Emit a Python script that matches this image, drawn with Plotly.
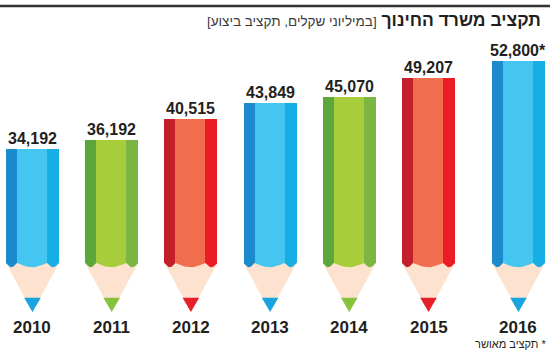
import math
import plotly.graph_objects as go

# ---- data ----
years = ["2010", "2011", "2012", "2013", "2014", "2015", "2016"]
budget = [34192, 36192, 40515, 43849, 45070, 49207, 52800]
approved = [False, False, False, False, False, False, True]
pencil_color = ["blue", "green", "red", "blue", "green", "red", "blue"]

title_main = "תקציב משרד החינוך"
title_sub = "[במיליוני שקלים, תקציב ביצוע]"
footnote = "* תקציב מאושר"

# ---- styling ----
palette = {
    "blue": {"left": "#1C8BCE", "mid": "#44C6F1", "right": "#17AEE6", "lead": "#1BA3DF"},
    "green": {"left": "#5BA73C", "mid": "#A7CE3A", "right": "#7BB642", "lead": "#86C23E"},
    "red": {"left": "#C4202B", "mid": "#F06E4E", "right": "#EC1C25", "lead": "#E5202A"},
}
WOOD = "#FDE3CF"
TEXT = "#231F20"

# pencil geometry (x in category units, y in budget units)
stripe_edges = [-0.335, -0.196, 0.183, 0.335]
stripe_names = ["left", "mid", "right"]
body_base = 10300      # where the painted body ends and the wooden cone starts
scallop_depth = 900
lead_top = 3000
lead_half = 0.105
extra_gap_last = 0.136  # approved-budget pencil is set slightly apart

xpos = [i + (extra_gap_last if approved[i] else 0) for i in range(len(years))]

fig = go.Figure()

# wooden cones
for i, v in enumerate(budget):
    x0 = xpos[i]
    fig.add_trace(go.Scatter(
        x=[x0 + stripe_edges[0], x0 + stripe_edges[-1], x0, x0 + stripe_edges[0]],
        y=[body_base, body_base, 0, body_base],
        fill="toself", fillcolor=WOOD, mode="lines", line=dict(width=0, color=WOOD),
        hoverinfo="skip", showlegend=False))

# leads
for i, v in enumerate(budget):
    x0 = xpos[i]
    c = palette[pencil_color[i]]["lead"]
    fig.add_trace(go.Scatter(
        x=[x0 - lead_half, x0 + lead_half, x0, x0 - lead_half],
        y=[lead_top, lead_top, 0, lead_top],
        fill="toself", fillcolor=c, mode="lines", line=dict(width=0, color=c),
        hoverinfo="skip", showlegend=False))

# painted bodies: three stripes per pencil
for s, name in enumerate(stripe_names):
    w = stripe_edges[s + 1] - stripe_edges[s]
    fig.add_trace(go.Bar(
        x=xpos,
        y=[v - body_base for v in budget],
        base=body_base,
        width=w,
        offset=stripe_edges[s],
        marker=dict(color=[palette[c][name] for c in pencil_color], line=dict(width=0)),
        hoverinfo="skip", showlegend=False))

# scalloped bottom edge of each stripe
for i, v in enumerate(budget):
    x0 = xpos[i]
    for s, name in enumerate(stripe_names):
        a, b = x0 + stripe_edges[s], x0 + stripe_edges[s + 1]
        n = 14
        xs = [a + (b - a) * k / n for k in range(n + 1)]
        ys = [body_base + 5 - scallop_depth * math.sin(math.pi * k / n) for k in range(n + 1)]
        xs += [b, a, a]
        ys += [body_base + 5, body_base + 5, ys[0]]
        c = palette[pencil_color[i]][name]
        fig.add_trace(go.Scatter(
            x=xs, y=ys, fill="toself", fillcolor=c, mode="lines",
            line=dict(width=0, color=c), hoverinfo="skip", showlegend=False))

# value labels
for i, v in enumerate(budget):
    fig.add_annotation(
        x=xpos[i], y=v, xref="x", yref="y", showarrow=False,
        text=f"{v:,}" + ("*" if approved[i] else ""),
        yanchor="bottom", xanchor="center", yshift=0,
        font=dict(family="Liberation Sans, Arial, sans-serif",
                  size=16, color=TEXT, weight="bold"))

# year labels
for i, yr in enumerate(years):
    fig.add_annotation(
        x=xpos[i], y=-3250, xref="x", yref="y", showarrow=False,
        text=yr, yanchor="middle", xanchor="center",
        font=dict(family="Liberation Sans, Arial, sans-serif", size=17, color=TEXT, weight="bold"))

# title
fig.add_annotation(
    xref="paper", yref="paper", x=543 / 550, y=1 - 20 / 354,
    xanchor="right", yanchor="middle", showarrow=False,
    text="\u200f<b>" + title_main + "</b> <span style='font-size:13.5px;font-weight:normal;color:#3a3a3a'>"
         + title_sub + "</span>\u200f",
    font=dict(family="Liberation Sans, Arial, sans-serif", size=17.5, color=TEXT))

# footnote
fig.add_annotation(
    xref="paper", yref="paper", x=548 / 550, y=1 - 344 / 354,
    xanchor="right", yanchor="middle", showarrow=False,
    text="\u200f" + footnote,
    font=dict(family="Liberation Sans, Arial, sans-serif", size=11, color=TEXT))

# top rule
fig.add_shape(type="line", xref="paper", yref="paper", x0=0, x1=1,
              y0=1 - 6 / 354, y1=1 - 6 / 354, line=dict(color="#333333", width=2.5))

fig.update_layout(
    width=550, height=354,
    margin=dict(l=0, r=0, t=0, b=0),
    paper_bgcolor="white", plot_bgcolor="white",
    barmode="overlay", bargap=0,
    xaxis=dict(range=[-0.41, 6.534], visible=False, fixedrange=True),
    yaxis=dict(range=[-8820, 65550], visible=False, fixedrange=True),
    showlegend=False,
)

fig.write_html("out.html", config={"displayModeBar": False})
